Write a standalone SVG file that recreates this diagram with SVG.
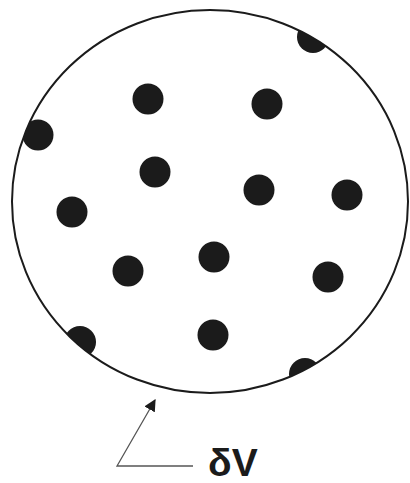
<svg xmlns="http://www.w3.org/2000/svg" width="410" height="483" viewBox="0 0 410 483">
<style>
.dot{fill:#1b1b1b}
.bound{fill:none;stroke:#1b1b1b;stroke-width:2}
.lead{fill:none;stroke:#555;stroke-width:1.3}
.lbl{font-family:"Liberation Sans",Arial,sans-serif;font-weight:bold;font-size:39px;fill:#1b1b1b}
</style>
<defs>
<clipPath id="inside"><ellipse cx="210" cy="201.5" rx="198" ry="191.5"/></clipPath>
<marker id="ah" viewBox="0 0 10 10" refX="9" refY="5" markerWidth="12" markerHeight="12" markerUnits="userSpaceOnUse" orient="auto"><path d="M0,0 L10,5 L0,10 z" fill="#1b1b1b"/></marker>
</defs>
<rect width="410" height="483" fill="#fff"/>
<g id="region">
<ellipse class="bound" cx="210" cy="201.5" rx="198" ry="191.5"/>
<g clip-path="url(#inside)">
<circle class="dot" cx="313" cy="37" r="16"/>
<circle class="dot" cx="38" cy="135" r="15.5"/>
<circle class="dot" cx="80" cy="342" r="16"/>
<circle class="dot" cx="305" cy="374" r="16"/>
</g>
<circle class="dot" cx="148" cy="99" r="15.5"/>
<circle class="dot" cx="267" cy="104" r="15.5"/>
<circle class="dot" cx="155" cy="172" r="15.5"/>
<circle class="dot" cx="259" cy="190" r="15.5"/>
<circle class="dot" cx="347" cy="195" r="15.5"/>
<circle class="dot" cx="72" cy="212" r="15.5"/>
<circle class="dot" cx="128" cy="271" r="15.5"/>
<circle class="dot" cx="214" cy="257" r="15.5"/>
<circle class="dot" cx="328" cy="277" r="15.5"/>
<circle class="dot" cx="213" cy="335" r="15.5"/>
</g>
<g id="connectors">
<path class="lead" d="M193,466 L117,466 L155,400" marker-end="url(#ah)"/>
</g>
<g id="label">
<text class="lbl" x="208" y="476">δV</text>
</g>
</svg>
